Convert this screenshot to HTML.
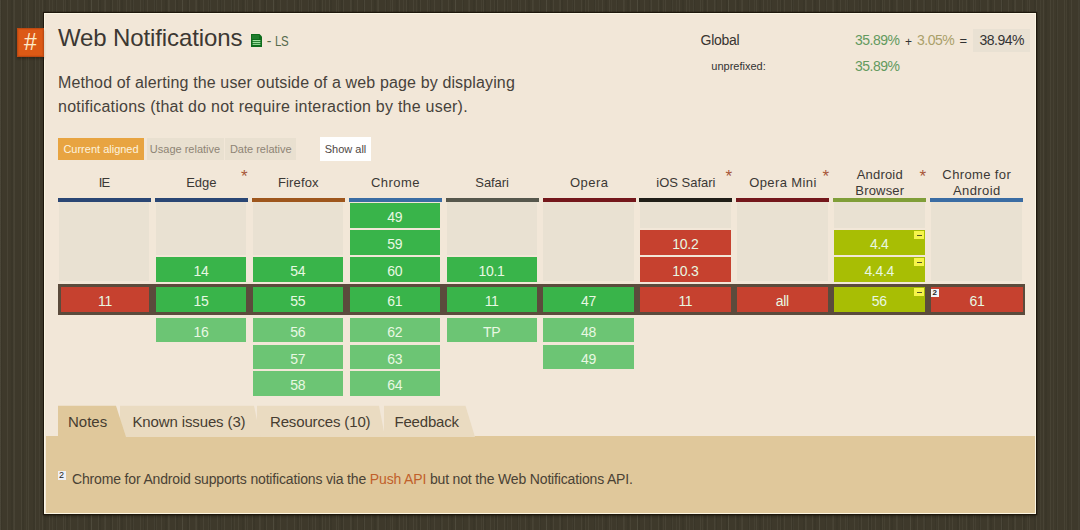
<!DOCTYPE html>
<html><head><meta charset="utf-8"><style>
*{margin:0;padding:0;box-sizing:border-box}
html,body{width:1080px;height:530px;overflow:hidden}
body{-webkit-font-smoothing:antialiased;background:#3e392b;font-family:"Liberation Sans",sans-serif;position:relative;color:#333}
.bg{position:absolute;left:0;top:0;width:1080px;height:530px;
background-image:repeating-linear-gradient(90deg,rgba(255,255,235,0.05) 0 1px,transparent 1px 7px),repeating-linear-gradient(90deg,rgba(0,0,0,0.06) 0 2px,transparent 2px 11px),repeating-linear-gradient(90deg,rgba(255,255,235,0.035) 0 1px,transparent 1px 13px)}
.panel{position:absolute;left:44px;top:13px;width:992px;height:501px;background:#f2e7d8;border:1.5px solid #fcf6e4;box-shadow:0 0 0 1.2px #1e170c,0 2px 3px rgba(10,8,2,0.45)}
.hash{position:absolute;left:17px;top:28px;width:27px;height:29px;background:#dc5915;color:#fdebc8;font-size:23px;text-align:center;line-height:29px;box-shadow:inset 0 0 0 1.3px #bd4912,0 2px 2px rgba(20,15,5,0.35)}
.abs{position:absolute;white-space:nowrap}
.btn{position:absolute;top:138px;height:22px;font-size:11px;line-height:22px;text-align:center;color:#8e8475;background:#e9e0d0}
.hdr{position:absolute;font-size:13px;color:#3b3835;text-align:center;line-height:16px}
.bar{position:absolute;top:198px;height:3.8px}
.cell{position:absolute;height:24.5px;line-height:28px;text-align:center;color:#e8f8e2;font-size:14px;letter-spacing:-0.3px;text-indent:-0.3px}
.empty{position:absolute;background:#e9e1d2}
.y{background:#39b44a}
.yf{background:#6cc574}
.n{background:#c6412f}
.a{background:#a8be04}
.cur{position:absolute;left:58px;top:284px;width:967px;height:31.2px;background:#5b4b3c}
.tabs{position:absolute;left:45.5px;top:436px;width:989px;height:76.5px;background:#e0c89b}
.tab{position:absolute;top:405.8px;height:32px;font-size:15px;line-height:32px;color:#463d31}
.star{position:absolute;color:#a8583a;font-size:17px;line-height:17px}
</style></head><body>
<div class="bg"></div><div class="panel"></div><div class="hash">#</div>
<div class="abs" style="left:58px;top:23px;font-size:24px;line-height:30px;color:#3c3833;letter-spacing:-0.12px">Web Notifications</div>
<svg class="abs" style="left:251px;top:34px" width="11" height="13" viewBox="0 0 11 13"><path d="M0 0h8.5l2.5 2.5V13H0z" fill="#0e6c1c"/><rect x="1" y="1" width="7" height="4" fill="#1f7d2c"/><rect x="1.6" y="6" width="7.8" height="1.1" fill="#9ee29e"/><rect x="1.6" y="7.9" width="7.8" height="1.1" fill="#9ee29e"/><rect x="1.6" y="9.8" width="7.8" height="1.1" fill="#9ee29e"/></svg>
<div class="abs" style="left:266.8px;top:33px;font-size:14px;color:#566a4c;line-height:16px">-</div><div class="abs" style="left:274.5px;top:33px;font-size:14px;color:#566a4c;line-height:16px;letter-spacing:-0.5px;transform:scaleX(0.82);transform-origin:0 0">LS</div>
<div class="abs" style="left:58px;top:71px;font-size:16px;line-height:24px;color:#47423b;letter-spacing:0.137px">Method of alerting the user outside of a web page by displaying</div>
<div class="abs" style="left:58px;top:95px;font-size:16px;line-height:24px;color:#47423b;letter-spacing:0.234px">notifications (that do not require interaction by the user).</div>
<div class="btn" style="left:58px;width:86px;background:#e8a441;color:#fdf3df">Current aligned</div>
<div class="btn" style="left:146.5px;width:77px">Usage relative</div>
<div class="btn" style="left:225.3px;width:71px">Date relative</div>
<div class="btn" style="left:320px;width:51px;background:#fff;color:#4e4844;top:137px;height:23.5px;line-height:24px">Show all</div>
<div class="abs" style="left:700.5px;top:31.8px;font-size:14px;line-height:16px;color:#383430;letter-spacing:-0.25px">Global</div>
<div class="abs" style="left:711.3px;top:60px;font-size:11px;line-height:13px;color:#333">unprefixed:</div>
<div class="abs" style="left:855px;top:32.3px;font-size:14px;line-height:16px;color:#639a5e;letter-spacing:-0.5px">35.89%</div>
<div class="abs" style="left:905px;top:33.5px;font-size:12px;line-height:16px;color:#333">+</div>
<div class="abs" style="left:917px;top:32.3px;font-size:14px;line-height:16px;color:#aaa06a;letter-spacing:-0.5px">3.05%</div>
<div class="abs" style="left:959.5px;top:33px;font-size:13px;line-height:16px;color:#333">=</div>
<div class="abs" style="left:972.5px;top:29px;width:57.5px;height:22.8px;background:#e9e1d3"></div>
<div class="abs" style="left:979.5px;top:32.3px;font-size:14px;line-height:16px;color:#333;letter-spacing:-0.5px">38.94%</div>
<div class="abs" style="left:855px;top:57.5px;font-size:14px;line-height:16px;color:#639a5e;letter-spacing:-0.5px">35.89%</div>
<div class="hdr" style="left:57.50px;top:174.7px;width:93.0px;letter-spacing:-1.0px">IE</div>
<div class="bar" style="left:58.00px;width:93.0px;background:#2a4674"></div>
<div class="empty" style="left:58.90px;top:202.2px;width:90.5px;height:79.30px"></div>
<div class="hdr" style="left:154.90px;top:174.7px;width:93.0px;letter-spacing:0px">Edge</div>
<div class="star" style="left:241.10px;top:168px">*</div>
<div class="bar" style="left:154.90px;width:93.0px;background:#2a4674"></div>
<div class="empty" style="left:155.80px;top:202.2px;width:90.5px;height:52.40px"></div>
<div class="hdr" style="left:251.88px;top:174.7px;width:93.0px;letter-spacing:0.15px">Firefox</div>
<div class="bar" style="left:251.80px;width:93.0px;background:#9e561c"></div>
<div class="empty" style="left:252.70px;top:202.2px;width:90.5px;height:52.40px"></div>
<div class="hdr" style="left:348.92px;top:174.7px;width:93.0px;letter-spacing:0.44px">Chrome</div>
<div class="bar" style="left:348.70px;width:93.0px;background:#3a6ca3"></div>
<div class="hdr" style="left:445.55px;top:174.7px;width:93.0px;letter-spacing:-0.1px">Safari</div>
<div class="bar" style="left:445.60px;width:93.0px;background:#56574c"></div>
<div class="empty" style="left:446.50px;top:202.2px;width:90.5px;height:52.40px"></div>
<div class="hdr" style="left:542.75px;top:174.7px;width:93.0px;letter-spacing:0.5px">Opera</div>
<div class="bar" style="left:542.50px;width:93.0px;background:#74171b"></div>
<div class="empty" style="left:543.40px;top:202.2px;width:90.5px;height:79.30px"></div>
<div class="hdr" style="left:639.40px;top:174.7px;width:93.0px;letter-spacing:0px">iOS Safari</div>
<div class="star" style="left:725.60px;top:168px">*</div>
<div class="bar" style="left:639.40px;width:93.0px;background:#201e17"></div>
<div class="empty" style="left:640.30px;top:202.2px;width:90.5px;height:25.50px"></div>
<div class="hdr" style="left:736.50px;top:174.7px;width:93.0px;letter-spacing:0.39px">Opera Mini</div>
<div class="star" style="left:822.50px;top:168px">*</div>
<div class="bar" style="left:736.30px;width:93.0px;background:#74171b"></div>
<div class="empty" style="left:737.20px;top:202.2px;width:90.5px;height:79.30px"></div>
<div class="hdr" style="left:833.29px;top:166.7px;width:93.0px;letter-spacing:0.18px">Android<br>Browser</div>
<div class="star" style="left:919.40px;top:168px">*</div>
<div class="bar" style="left:833.20px;width:93.0px;background:#809e38"></div>
<div class="empty" style="left:834.10px;top:202.2px;width:90.5px;height:25.50px"></div>
<div class="hdr" style="left:930.29px;top:166.7px;width:93.0px;letter-spacing:0.38px">Chrome for<br>Android</div>
<div class="bar" style="left:930.10px;width:93.0px;background:#3a6ca3"></div>
<div class="empty" style="left:931.00px;top:202.2px;width:90.5px;height:79.30px"></div>
<div class="cur"></div>
<div class="cell n" style="left:61.00px;top:287.2px;width:88.40px">11</div>
<div class="cell y" style="left:155.80px;top:257.0px;width:90.50px">14</div>
<div class="cell y" style="left:155.80px;top:287.2px;width:90.50px">15</div>
<div class="cell yf" style="left:155.80px;top:317.8px;width:90.50px">16</div>
<div class="cell y" style="left:252.70px;top:257.0px;width:90.50px">54</div>
<div class="cell y" style="left:252.70px;top:287.2px;width:90.50px">55</div>
<div class="cell yf" style="left:252.70px;top:317.8px;width:90.50px">56</div>
<div class="cell yf" style="left:252.70px;top:344.6px;width:90.50px">57</div>
<div class="cell yf" style="left:252.70px;top:371.4px;width:90.50px">58</div>
<div class="cell y" style="left:349.60px;top:203.2px;width:90.50px">49</div>
<div class="cell y" style="left:349.60px;top:230.1px;width:90.50px">59</div>
<div class="cell y" style="left:349.60px;top:257.0px;width:90.50px">60</div>
<div class="cell y" style="left:349.60px;top:287.2px;width:90.50px">61</div>
<div class="cell yf" style="left:349.60px;top:317.8px;width:90.50px">62</div>
<div class="cell yf" style="left:349.60px;top:344.6px;width:90.50px">63</div>
<div class="cell yf" style="left:349.60px;top:371.4px;width:90.50px">64</div>
<div class="cell y" style="left:446.50px;top:257.0px;width:90.50px">10.1</div>
<div class="cell y" style="left:446.50px;top:287.2px;width:90.50px">11</div>
<div class="cell yf" style="left:446.50px;top:317.8px;width:90.50px">TP</div>
<div class="cell y" style="left:543.40px;top:287.2px;width:90.50px">47</div>
<div class="cell yf" style="left:543.40px;top:317.8px;width:90.50px">48</div>
<div class="cell yf" style="left:543.40px;top:344.6px;width:90.50px">49</div>
<div class="cell n" style="left:640.30px;top:230.1px;width:90.50px">10.2</div>
<div class="cell n" style="left:640.30px;top:257.0px;width:90.50px">10.3</div>
<div class="cell n" style="left:640.30px;top:287.2px;width:90.50px">11</div>
<div class="cell n" style="left:737.20px;top:287.2px;width:90.50px">all</div>
<div class="cell a" style="left:834.10px;top:230.1px;width:90.50px">4.4</div>
<div class="abs" style="left:914.30px;top:231.1px;width:10px;height:8.3px;background:#f6f44a"><div style="position:absolute;left:2.6px;top:3.5px;width:5px;height:1.3px;background:#55552a"></div></div>
<div class="cell a" style="left:834.10px;top:257.0px;width:90.50px">4.4.4</div>
<div class="abs" style="left:914.30px;top:258.0px;width:10px;height:8.3px;background:#f6f44a"><div style="position:absolute;left:2.6px;top:3.5px;width:5px;height:1.3px;background:#55552a"></div></div>
<div class="cell a" style="left:834.10px;top:287.2px;width:90.50px">56</div>
<div class="abs" style="left:914.30px;top:288.2px;width:10px;height:8.3px;background:#f6f44a"><div style="position:absolute;left:2.6px;top:3.5px;width:5px;height:1.3px;background:#55552a"></div></div>
<div class="cell n" style="left:931.00px;top:287.2px;width:92.40px">61</div>
<div class="abs" style="left:930.70px;top:288.7px;width:8px;height:8.5px;background:#f3f3f6;color:#222;font-size:8px;line-height:8.5px;text-align:center;font-weight:bold">2</div>
<div class="tabs"></div>
<svg class="abs" style="left:383.5px;top:404.5px" width="92.0" height="32" viewBox="0 0 92.0 32"><path d="M0 0.7 L81.5 0.7 L91.0 32 L0 32 Z" fill="#eadbc1"/></svg>
<svg class="abs" style="left:257px;top:404.5px" width="129.0" height="32" viewBox="0 0 129.0 32"><path d="M0 0.7 L122.0 0.7 L128.0 32 L0 32 Z" fill="#eadbc1"/></svg>
<svg class="abs" style="left:120px;top:404.5px" width="141.5" height="32" viewBox="0 0 141.5 32"><path d="M0 0.7 L134.0 0.7 L140.5 32 L0 32 Z" fill="#eadbc1"/></svg>
<svg class="abs" style="left:58px;top:404.5px" width="69.0" height="32" viewBox="0 0 69.0 32"><path d="M0 0.7 L58.0 0.7 L68.0 32 L0 32 Z" fill="#e0c89b"/></svg>
<div class="tab" style="left:68px;letter-spacing:0px">Notes</div>
<div class="tab" style="left:132.5px;letter-spacing:-0.13px">Known issues (3)</div>
<div class="tab" style="left:270px;letter-spacing:-0.15px">Resources (10)</div>
<div class="tab" style="left:394.5px;letter-spacing:-0.2px">Feedback</div>
<div class="abs" style="left:57.5px;top:471px;width:8px;height:8.5px;background:#eef0f5;color:#222;font-size:9px;line-height:9px;text-align:center">2</div>
<div class="abs" style="left:72px;top:470.7px;font-size:14px;line-height:16px;color:#4a4235;letter-spacing:-0.16px">Chrome for Android supports notifications via the <span style="color:#c0602a">Push API</span> but not the Web Notifications API.</div>
</body></html>
